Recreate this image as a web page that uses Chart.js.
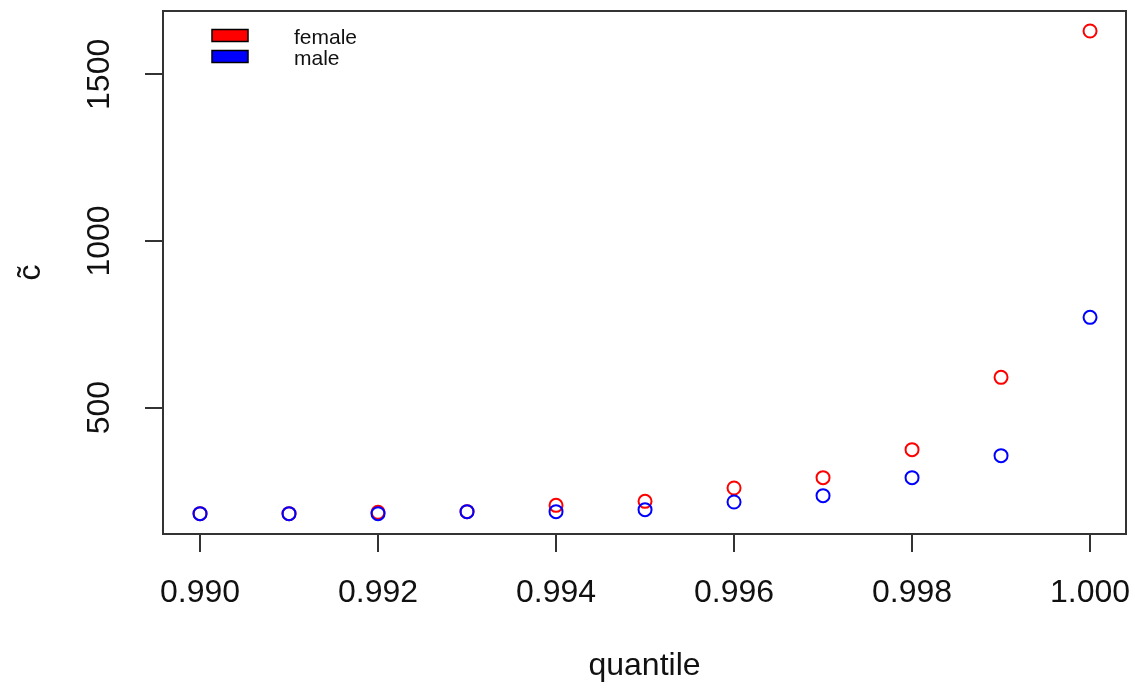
<!DOCTYPE html>
<html>
<head>
<meta charset="utf-8">
<script src="https://cdn.jsdelivr.net/npm/chart.js@4/dist/chart.umd.min.js"></script>
<style>
  html, body { margin: 0; padding: 0; background: #fff; }
  #wrap { width: 1135px; height: 692px; position: relative; }
</style>
</head>
<body>
<div id="wrap"><canvas id="c"></canvas></div>
<script>
// values
const quantiles = [0.990, 0.991, 0.992, 0.993, 0.994, 0.995, 0.996, 0.997, 0.998, 0.999, 1.000];
const female    = [182, 182, 186, 188, 207, 219, 259, 290, 374, 591, 1630];
const male      = [182, 182, 182, 188, 188, 194, 217, 236, 290, 356, 771];
const xTicks    = [0.990, 0.992, 0.994, 0.996, 0.998, 1.000];
const yTicks    = [500, 1000, 1500];
const seriesNames = ['female', 'male'];

const FONT = 'Liberation Sans, Arial, sans-serif';
const AXIS = '#333';

const toPts = ys => quantiles.map((q, i) => ({ x: q, y: ys[i] }));

// no extra room for overhanging tick labels, the box is fixed by padding/afterFit
const noPad = s => { s.paddingTop = 0; s.paddingBottom = 0; s.paddingLeft = 0; s.paddingRight = 0; };

// full box round the plot region + the little legend top-left
const boxPlugin = {
  id: 'rbox',
  afterDraw(chart) {
    const { ctx, chartArea: a } = chart;
    ctx.save();
    ctx.strokeStyle = AXIS;
    ctx.lineWidth = 2;
    ctx.strokeRect(a.left, a.top, a.right - a.left, a.bottom - a.top);

    ctx.font = '21px ' + FONT;
    ctx.textBaseline = 'alphabetic';
    chart.data.datasets.forEach((ds, i) => {
      const y = 29.5 + i * 21;
      ctx.fillStyle = ds.borderColor;
      ctx.fillRect(212, y, 36, 12);
      ctx.strokeStyle = '#000';
      ctx.lineWidth = 1.5;
      ctx.strokeRect(212, y, 36, 12);
      ctx.fillStyle = '#111';
      ctx.fillText(ds.label, 294, y + 14.5);
    });
    ctx.restore();
  }
};

new Chart(document.getElementById('c'), {
  type: 'scatter',
  data: {
    datasets: [
      {
        label: seriesNames[0],
        data: toPts(female),
        order: 1,
        borderColor: 'red',
        backgroundColor: 'transparent',
        pointRadius: 6.5, pointBorderWidth: 2, pointHoverRadius: 6.5
      },
      {
        label: seriesNames[1],
        data: toPts(male),
        order: 0,
        borderColor: 'blue',
        backgroundColor: 'transparent',
        pointRadius: 6.5, pointBorderWidth: 2, pointHoverRadius: 6.5
      }
    ]
  },
  options: {
    responsive: true, maintainAspectRatio: false, animation: false,
    layout: { padding: { top: 11, right: 9, left: 0, bottom: 0 } },
    plugins: { legend: { display: false }, tooltip: { enabled: false } },
    scales: {
      x: {
        type: 'linear', min: 0.989584, max: 1.000404,
        afterBuildTicks: s => { s.ticks = xTicks.map(v => ({ value: v })); },
        afterFit: s => { s.height = 158; noPad(s); },
        border: { display: false },
        grid: { drawOnChartArea: false, drawTicks: true, tickLength: 18, color: AXIS, lineWidth: 2 },
        ticks: { color: '#111', font: { family: FONT, size: 32 }, padding: 22, maxRotation: 0,
                 callback: v => Number(v).toFixed(3) },
        title: { display: true, text: 'quantile', color: '#111',
                 font: { family: FONT, size: 32 }, padding: { top: 0, bottom: 7 } }
      },
      y: {
        min: 121, max: 1690,
        afterBuildTicks: s => { s.ticks = yTicks.map(v => ({ value: v })); },
        afterFit: s => { s.width = 163; noPad(s); },
        border: { display: false },
        grid: { drawOnChartArea: false, drawTicks: true, tickLength: 18, color: AXIS, lineWidth: 2 },
        ticks: { color: '#111', font: { family: FONT, size: 32 }, padding: 9,
                 minRotation: 90, maxRotation: 90, crossAlign: 'center',
                 callback: v => String(v) },
        title: { display: true, text: 'c\u0303', color: '#111',
                 font: { family: FONT, size: 32 }, padding: { top: 12, bottom: 0 } }
      }
    }
  },
  plugins: [boxPlugin]
});
</script>
</body>
</html>
